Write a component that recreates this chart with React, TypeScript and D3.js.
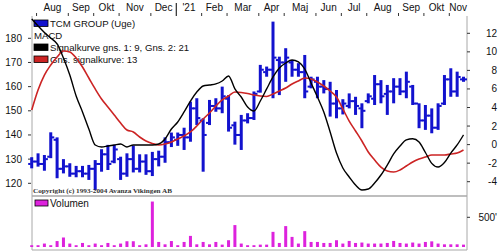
import React from "react";
import * as d3 from "d3";

const monthLabels = ["Aug", "Sep", "Okt", "Nov", "Dec", "'21", "Feb", "Mar", "Apr", "Maj", "Jun", "Jul", "Aug", "Sep", "Okt", "Nov"];
const monthStartWeek = [1, 6, 10, 14, 19, 23, 27, 31, 36, 40, 45, 49, 53, 58, 62, 66];
const yearStartLabel = "'21";

const priceTicks = [120, 130, 140, 150, 160, 170, 180];
const macdTicks = [-4, -2, 0, 2, 4, 6, 8, 10, 12];
const volumeTicks = [500];

const open = [128, 129, 128, 131, 138, 126, 127, 124, 125, 124, 126, 128, 132, 129, 130, 124, 130, 126, 129, 125, 130, 131, 137, 138, 140, 139, 151, 146, 145, 152, 151, 155, 144, 140, 146, 147, 158, 166, 167, 171, 170, 170, 167, 166, 160, 162, 160, 159, 153, 151, 152, 154, 151, 154, 155, 161, 157, 158, 160, 158, 160, 153, 146, 148, 143, 153, 163, 158, 163];
const high = [130.8, 132.4, 131.7, 141.1, 139, 130, 128.3, 127.2, 127.2, 127.6, 129.6, 134.1, 135.9, 135.9, 131, 132.4, 135.6, 132, 132, 133, 133.5, 139, 141, 141, 143, 153.8, 155.2, 146.9, 154.5, 155.2, 160, 156.5, 145.5, 148.3, 149, 158, 169, 168.3, 186.9, 172.4, 175.9, 171, 169.7, 173.1, 164.1, 164.1, 162.7, 162, 158.6, 154.8, 157.2, 155.8, 153.1, 157.2, 164.8, 162.7, 160.7, 163.5, 163.5, 166.2, 160.7, 153.1, 152.4, 151, 153.1, 164.8, 167.6, 166.2, 164.1];
const low = [126.2, 126.9, 125.2, 130.4, 122.1, 124.1, 122.7, 122.5, 122.5, 121.4, 117.2, 124.8, 125.5, 128.3, 121.4, 122.7, 124.5, 124.5, 123.5, 123, 127, 128.5, 135, 135.5, 133.8, 137.2, 144.1, 124.8, 144.1, 149.6, 149, 141.4, 136, 133.8, 144.8, 146.2, 157.5, 164.1, 155.2, 156.5, 162, 164.1, 164.1, 155.2, 159.3, 155.2, 157.2, 147.6, 146.9, 148.5, 151, 148.3, 142.8, 153.1, 152.4, 153.1, 148.3, 153.1, 156.5, 155.2, 152.4, 142.8, 142.1, 140.7, 142.1, 152.4, 155.8, 155.8, 162];
const close = [129, 128, 130, 139, 126, 127, 124, 125, 124, 126, 128, 132, 128, 134, 124, 130, 126, 129, 125, 130, 131, 137, 139, 140, 139, 151, 147, 140, 152, 151, 156, 143, 140, 146, 147, 157, 167, 167, 172, 170, 172, 167, 166, 158, 163, 160, 159, 153, 151, 153, 154, 152, 150, 156, 161, 156, 158, 160, 158, 162, 153, 146, 148, 143, 152, 163, 158, 164, 163];
const volume = [30, 30, 58, 30, 100, 160, 58, 30, 68, 30, 58, 30, 68, 30, 58, 97, 97, 30, 45, 765, 85, 45, 100, 30, 85, 187, 45, 85, 45, 85, 40, 114, 369, 58, 30, 30, 40, 40, 255, 68, 352, 170, 58, 267, 85, 85, 68, 68, 114, 58, 102, 68, 75, 58, 58, 58, 68, 102, 68, 58, 75, 58, 85, 95, 58, 45, 45, 45, 40];
const macd = [13.54, 12.79, 12.09, 11.49, 10.85, 9.34, 7.5, 5.24, 3.52, 1.68, -0.04, -0.26, -0.15, -0.04, 0.06, -0.26, -0.04, -0.04, -0.04, -0.04, 0.06, 0.6, 1.68, 2.44, 3.52, 4.7, 5.67, 6.32, 6.43, 6.54, 6.86, 7.4, 6.0, 5.13, 4.05, 3.62, 4.7, 6.0, 7.29, 8.26, 8.8, 9.12, 8.91, 8.15, 6.64, 5.13, 3.52, 1.36, -0.91, -2.52, -3.49, -4.36, -4.89, -4.79, -4.14, -3.28, -2.2, -1.01, -0.15, 0.5, 0.63, 0.28, -0.85, -2.02, -2.42, -1.93, -0.91, -0.04, 1.04];
const signal = [3.73, 5.89, 7.5, 8.58, 9.44, 10.09, 9.98, 9.34, 8.37, 7.18, 6.0, 4.92, 4.05, 3.19, 2.33, 1.57, 1.36, 0.82, 0.39, 0.12, -0.04, 0.06, 0.28, 0.61, 0.93, 1.36, 2.01, 2.76, 3.41, 4.16, 4.81, 5.24, 5.67, 5.62, 5.51, 5.35, 5.24, 5.19, 5.46, 5.78, 6.1, 6.53, 6.86, 7.18, 7.08, 6.75, 6.32, 5.78, 5.13, 3.84, 2.54, 1.47, 0.39, -0.8, -1.66, -2.42, -2.85, -2.96, -2.74, -2.31, -1.88, -1.55, -1.34, -1.12, -1.12, -1.12, -1.01, -0.91, -0.58];

const legendPrice = "TCM GROUP (Uge)";
const legendMacd = "MACD";
const legendSignal1 = "Signalkurve gns. 1: 9, Gns. 2: 21";
const legendSignal2 = "Gns. signalkurve: 13";
const legendVolume = "Volumen";
const copyright = "Copyright (c) 1993-2004 Avanza Vikingen AB";

const BLUE = "#1212CE";
const RED = "#CC2424";
const BLACK = "#000000";
const MAGENTA = "#DD22DD";
const FRAME = "#a8a8a8";
const TEXT = "#111111";
const FONT = "'Liberation Sans', Arial, sans-serif";

export default function App() {
  const W = 500, H = 251;
  const left = 32, right = 467, top = 16, mid = 196, bottom = 250;
  const n = close.length;
  const x = d3.scaleLinear().domain([0, n - 1]).range([31.7, 463.5]);
  const yP = d3.scaleLinear().domain([120, 180]).range([183.3, 38.3]);
  const yM = d3.scaleLinear().domain([-4, 12]).range([181.7, 33.3]);
  const yV = d3.scaleLinear().domain([0, 500]).range([247, 217.3]);

  const line = d3
    .line<number>()
    .x((_, i) => x(i))
    .y((d) => yM(d))
    .curve(d3.curveMonotoneX);

  const monthTickX = monthStartWeek.map((w) => x(w) - 1.5);

  return (
    <svg
      width={W}
      height={H}
      viewBox={`0 0 ${W} ${H}`}
      style={{ position: "absolute", left: 0, top: 0, background: "#fff" }}
      fontFamily={FONT}
    >
      <rect x={0} y={0} width={W} height={H} fill="#fff" />

      {/* frame */}
      <line x1={left} x2={left} y1={top} y2={bottom} stroke={FRAME} strokeWidth={1} />
      <line x1={right} x2={right} y1={top} y2={bottom} stroke={FRAME} strokeWidth={1} />
      <line x1={left} x2={right} y1={mid} y2={mid} stroke={FRAME} strokeWidth={1.5} />
      <line x1={left} x2={right} y1={bottom} y2={bottom} stroke={FRAME} strokeWidth={1} />

      {/* top month axis */}
      {monthTickX.map((tx, k) => (
        <line
          key={"mt" + k}
          x1={tx}
          x2={tx}
          y1={monthLabels[k] === yearStartLabel ? 3 : 13}
          y2={top}
          stroke={monthLabels[k] === yearStartLabel ? "#000" : "#333"}
          strokeWidth={1}
        />
      ))}
      {monthLabels.map((lab, k) => {
        const x0 = monthTickX[k];
        const x1 = k < monthTickX.length - 1 ? monthTickX[k + 1] : right;
        return (
          <text key={"ml" + k} x={(x0 + x1) / 2} y={11} fontSize={10} textAnchor="middle" fill={TEXT}>
            {lab}
          </text>
        );
      })}

      {/* left price axis */}
      {priceTicks.map((t) => (
        <g key={"p" + t}>
          <line x1={28} x2={31} y1={yP(t)} y2={yP(t)} stroke="#333" />
          <text x={22} y={yP(t) + 3.5} fontSize={10} textAnchor="end" fill={TEXT}>
            {t}
          </text>
        </g>
      ))}

      {/* right MACD axis */}
      {macdTicks.map((t) => (
        <g key={"m" + t}>
          <line x1={467} x2={470} y1={yM(t)} y2={yM(t)} stroke="#333" />
          <text x={497} y={yM(t) + 3.5} fontSize={10} textAnchor="end" fill={TEXT}>
            {t}
          </text>
        </g>
      ))}

      {/* volume axis */}
      {volumeTicks.map((t) => (
        <g key={"v" + t}>
          <line x1={467} x2={470} y1={yV(t)} y2={yV(t)} stroke="#333" />
          <text x={497} y={yV(t) + 3.5} fontSize={10} textAnchor="end" fill={TEXT}>
            {t + "'"}
          </text>
        </g>
      ))}

      {/* legend */}
      <rect x={34} y={20} width={14} height={6.5} fill={BLUE} stroke="#000" strokeWidth={0.8} />
      <text x={50} y={26.5} fontSize={9.6} fill={TEXT}>{legendPrice}</text>
      <text x={34} y={38.5} fontSize={9.6} fill={TEXT}>{legendMacd}</text>
      <rect x={34} y={44} width={14} height={6.5} fill={BLACK} stroke="#000" strokeWidth={0.8} />
      <text x={50} y={50.5} fontSize={9.6} fill={TEXT}>{legendSignal1}</text>
      <rect x={34} y={56} width={14} height={6.5} fill={RED} stroke="#000" strokeWidth={0.8} />
      <text x={50} y={62.5} fontSize={9.6} fill={TEXT}>{legendSignal2}</text>

      {/* price bars */}
      {close.map((c, i) => {
        const cx = x(i);
        const yh = yP(high[i]);
        const yl = yP(low[i]);
        return (
          <g key={"b" + i} fill={BLUE}>
            <rect x={cx - 1.5} y={yh} width={3} height={Math.max(1.5, yl - yh)} />
            <rect x={cx - 3.5} y={yP(open[i]) - 1} width={2.5} height={2} />
            <rect x={cx + 1} y={yP(c) - 1} width={2.5} height={2} />
          </g>
        );
      })}

      {/* MACD lines */}
      <path d={line(signal) || ""} fill="none" stroke={RED} strokeWidth={1.6} />
      <path d={line(macd) || ""} fill="none" stroke={BLACK} strokeWidth={1.4} />

      {/* copyright */}
      <text
        x={33}
        y={193}
        fontSize={7}
        fontFamily="'Liberation Serif', 'Times New Roman', serif"
        fontWeight="bold"
        fill="#333"
        textLength={139}
        lengthAdjust="spacingAndGlyphs"
      >
        {copyright}
      </text>

      {/* volume legend */}
      <rect x={35} y={200} width={13} height={6} fill={MAGENTA} stroke="#000" strokeWidth={0.8} />
      <text x={50} y={207} fontSize={10} fill={TEXT}>{legendVolume}</text>

      {/* volume bars */}
      {volume.map((v, i) => (
        <rect key={"vol" + i} x={x(i) - 1.5} y={yV(v)} width={3} height={yV(0) - yV(v)} fill={MAGENTA} />
      ))}
    </svg>
  );
}
